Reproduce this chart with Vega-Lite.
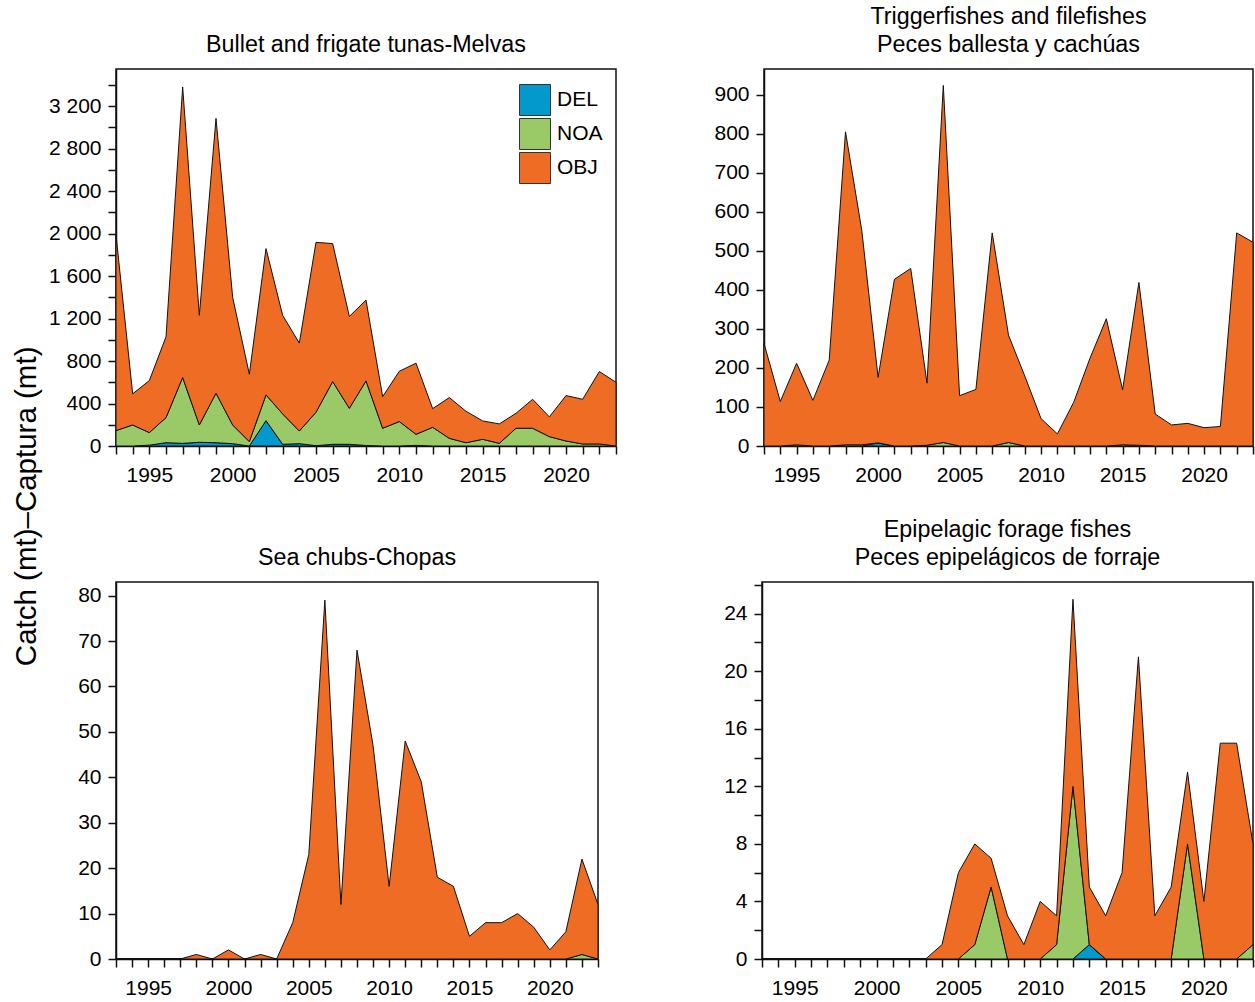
{
  "$schema": "https://vega.github.io/schema/vega-lite/v6.json",
  "padding": {"left": 12, "top": 3, "right": 0, "bottom": 0},
  "title": {"text": "Catch (mt)–Captura (mt)", "orient": "left", "anchor": "middle", "fontSize": 29.5, "font": "Liberation Sans", "fontWeight": "normal", "color": "black", "offset": 5, "frame": "bounds", "dx": -5},
  "config": {
    "font": "Liberation Sans",
    "view": {"stroke": "#111", "strokeWidth": 1.5},
    "axis": {"domainColor": "#111", "domainWidth": 1.5, "tickColor": "#111", "tickWidth": 1.5, "tickSize": 8, "labelFontSize": 21, "labelColor": "black", "labelFont": "Liberation Sans", "grid": false, "labelOverlap": false, "title": null},
    "axisX": {"labelPadding": 10},
    "axisY": {"labelPadding": 7},
    "title": {"fontSize": 23.3, "fontWeight": "normal", "color": "black", "offset": 12, "lineHeight": 28, "frame": "group", "font": "Liberation Sans"},
    "area": {"stroke": "#111", "strokeWidth": 1, "opacity": 1, "fillOpacity": 1}
  },
  "datasets": {
    "bullet": [
      {"year": 1993, "DEL": 0, "NOA": 145, "OBJ": 1845},
      {"year": 1994, "DEL": 0, "NOA": 198, "OBJ": 293},
      {"year": 1995, "DEL": 8, "NOA": 118, "OBJ": 490},
      {"year": 1996, "DEL": 31, "NOA": 236, "OBJ": 761},
      {"year": 1997, "DEL": 25, "NOA": 620, "OBJ": 2736},
      {"year": 1998, "DEL": 35, "NOA": 163, "OBJ": 1032},
      {"year": 1999, "DEL": 31, "NOA": 466, "OBJ": 2588},
      {"year": 2000, "DEL": 22, "NOA": 176, "OBJ": 1202},
      {"year": 2001, "DEL": 0, "NOA": 41, "OBJ": 635},
      {"year": 2002, "DEL": 239, "NOA": 242, "OBJ": 1378},
      {"year": 2003, "DEL": 16, "NOA": 286, "OBJ": 928},
      {"year": 2004, "DEL": 22, "NOA": 119, "OBJ": 828},
      {"year": 2005, "DEL": 3, "NOA": 315, "OBJ": 1600},
      {"year": 2006, "DEL": 16, "NOA": 591, "OBJ": 1299},
      {"year": 2007, "DEL": 16, "NOA": 339, "OBJ": 865},
      {"year": 2008, "DEL": 5, "NOA": 608, "OBJ": 761},
      {"year": 2009, "DEL": 0, "NOA": 167, "OBJ": 298},
      {"year": 2010, "DEL": 0, "NOA": 230, "OBJ": 474},
      {"year": 2011, "DEL": 6, "NOA": 104, "OBJ": 670},
      {"year": 2012, "DEL": 0, "NOA": 176, "OBJ": 176},
      {"year": 2013, "DEL": 0, "NOA": 72, "OBJ": 384},
      {"year": 2014, "DEL": 0, "NOA": 31, "OBJ": 296},
      {"year": 2015, "DEL": 0, "NOA": 63, "OBJ": 173},
      {"year": 2016, "DEL": 0, "NOA": 25, "OBJ": 183},
      {"year": 2017, "DEL": 0, "NOA": 167, "OBJ": 141},
      {"year": 2018, "DEL": 0, "NOA": 167, "OBJ": 273},
      {"year": 2019, "DEL": 0, "NOA": 88, "OBJ": 186},
      {"year": 2020, "DEL": 0, "NOA": 47, "OBJ": 428},
      {"year": 2021, "DEL": 0, "NOA": 19, "OBJ": 421},
      {"year": 2022, "DEL": 0, "NOA": 19, "OBJ": 682},
      {"year": 2023, "DEL": 0, "NOA": 0, "OBJ": 600}
    ],
    "trigger": [
      {"year": 1993, "DEL": 0, "NOA": 0, "OBJ": 263},
      {"year": 1994, "DEL": 0, "NOA": 0, "OBJ": 114},
      {"year": 1995, "DEL": 0, "NOA": 3, "OBJ": 209},
      {"year": 1996, "DEL": 0, "NOA": 0, "OBJ": 117},
      {"year": 1997, "DEL": 0, "NOA": 0, "OBJ": 220},
      {"year": 1998, "DEL": 0, "NOA": 3, "OBJ": 802},
      {"year": 1999, "DEL": 0, "NOA": 3, "OBJ": 549},
      {"year": 2000, "DEL": 8, "NOA": 0, "OBJ": 168},
      {"year": 2001, "DEL": 0, "NOA": 0, "OBJ": 427},
      {"year": 2002, "DEL": 0, "NOA": 0, "OBJ": 455},
      {"year": 2003, "DEL": 0, "NOA": 2, "OBJ": 159},
      {"year": 2004, "DEL": 0, "NOA": 9, "OBJ": 915},
      {"year": 2005, "DEL": 0, "NOA": 0, "OBJ": 129},
      {"year": 2006, "DEL": 0, "NOA": 0, "OBJ": 145},
      {"year": 2007, "DEL": 0, "NOA": 0, "OBJ": 546},
      {"year": 2008, "DEL": 0, "NOA": 9, "OBJ": 275},
      {"year": 2009, "DEL": 0, "NOA": 0, "OBJ": 179},
      {"year": 2010, "DEL": 0, "NOA": 0, "OBJ": 70},
      {"year": 2011, "DEL": 0, "NOA": 0, "OBJ": 31},
      {"year": 2012, "DEL": 0, "NOA": 0, "OBJ": 112},
      {"year": 2013, "DEL": 0, "NOA": 0, "OBJ": 225},
      {"year": 2014, "DEL": 0, "NOA": 0, "OBJ": 326},
      {"year": 2015, "DEL": 0, "NOA": 3, "OBJ": 141},
      {"year": 2016, "DEL": 0, "NOA": 2, "OBJ": 417},
      {"year": 2017, "DEL": 0, "NOA": 0, "OBJ": 82},
      {"year": 2018, "DEL": 0, "NOA": 0, "OBJ": 54},
      {"year": 2019, "DEL": 0, "NOA": 0, "OBJ": 58},
      {"year": 2020, "DEL": 0, "NOA": 0, "OBJ": 47},
      {"year": 2021, "DEL": 0, "NOA": 0, "OBJ": 50},
      {"year": 2022, "DEL": 0, "NOA": 0, "OBJ": 546},
      {"year": 2023, "DEL": 0, "NOA": 0, "OBJ": 522}
    ],
    "chubs": [
      {"year": 1993, "DEL": 0, "NOA": 0, "OBJ": 0},
      {"year": 1994, "DEL": 0, "NOA": 0, "OBJ": 0},
      {"year": 1995, "DEL": 0, "NOA": 0, "OBJ": 0},
      {"year": 1996, "DEL": 0, "NOA": 0, "OBJ": 0},
      {"year": 1997, "DEL": 0, "NOA": 0, "OBJ": 0},
      {"year": 1998, "DEL": 0, "NOA": 0, "OBJ": 1},
      {"year": 1999, "DEL": 0, "NOA": 0, "OBJ": 0},
      {"year": 2000, "DEL": 0, "NOA": 0, "OBJ": 2},
      {"year": 2001, "DEL": 0, "NOA": 0, "OBJ": 0},
      {"year": 2002, "DEL": 0, "NOA": 0, "OBJ": 1},
      {"year": 2003, "DEL": 0, "NOA": 0, "OBJ": 0},
      {"year": 2004, "DEL": 0, "NOA": 0, "OBJ": 8},
      {"year": 2005, "DEL": 0, "NOA": 0, "OBJ": 23},
      {"year": 2006, "DEL": 0, "NOA": 0, "OBJ": 79},
      {"year": 2007, "DEL": 0, "NOA": 0, "OBJ": 12},
      {"year": 2008, "DEL": 0, "NOA": 0, "OBJ": 68},
      {"year": 2009, "DEL": 0, "NOA": 0, "OBJ": 47},
      {"year": 2010, "DEL": 0, "NOA": 0, "OBJ": 16},
      {"year": 2011, "DEL": 0, "NOA": 0, "OBJ": 48},
      {"year": 2012, "DEL": 0, "NOA": 0, "OBJ": 39},
      {"year": 2013, "DEL": 0, "NOA": 0, "OBJ": 18},
      {"year": 2014, "DEL": 0, "NOA": 0, "OBJ": 16},
      {"year": 2015, "DEL": 0, "NOA": 0, "OBJ": 5},
      {"year": 2016, "DEL": 0, "NOA": 0, "OBJ": 8},
      {"year": 2017, "DEL": 0, "NOA": 0, "OBJ": 8},
      {"year": 2018, "DEL": 0, "NOA": 0, "OBJ": 10},
      {"year": 2019, "DEL": 0, "NOA": 0, "OBJ": 7},
      {"year": 2020, "DEL": 0, "NOA": 0, "OBJ": 2},
      {"year": 2021, "DEL": 0, "NOA": 0, "OBJ": 6},
      {"year": 2022, "DEL": 0, "NOA": 1, "OBJ": 21},
      {"year": 2023, "DEL": 0, "NOA": 0, "OBJ": 12}
    ],
    "forage": [
      {"year": 1993, "DEL": 0, "NOA": 0, "OBJ": 0},
      {"year": 1994, "DEL": 0, "NOA": 0, "OBJ": 0},
      {"year": 1995, "DEL": 0, "NOA": 0, "OBJ": 0},
      {"year": 1996, "DEL": 0, "NOA": 0, "OBJ": 0},
      {"year": 1997, "DEL": 0, "NOA": 0, "OBJ": 0},
      {"year": 1998, "DEL": 0, "NOA": 0, "OBJ": 0},
      {"year": 1999, "DEL": 0, "NOA": 0, "OBJ": 0},
      {"year": 2000, "DEL": 0, "NOA": 0, "OBJ": 0},
      {"year": 2001, "DEL": 0, "NOA": 0, "OBJ": 0},
      {"year": 2002, "DEL": 0, "NOA": 0, "OBJ": 0},
      {"year": 2003, "DEL": 0, "NOA": 0, "OBJ": 0},
      {"year": 2004, "DEL": 0, "NOA": 0, "OBJ": 1},
      {"year": 2005, "DEL": 0, "NOA": 0, "OBJ": 6},
      {"year": 2006, "DEL": 0, "NOA": 1, "OBJ": 7},
      {"year": 2007, "DEL": 0, "NOA": 5, "OBJ": 2},
      {"year": 2008, "DEL": 0, "NOA": 0, "OBJ": 3},
      {"year": 2009, "DEL": 0, "NOA": 0, "OBJ": 1},
      {"year": 2010, "DEL": 0, "NOA": 0, "OBJ": 4},
      {"year": 2011, "DEL": 0, "NOA": 1, "OBJ": 2},
      {"year": 2012, "DEL": 0, "NOA": 12, "OBJ": 13},
      {"year": 2013, "DEL": 1, "NOA": 0, "OBJ": 4},
      {"year": 2014, "DEL": 0, "NOA": 0, "OBJ": 3},
      {"year": 2015, "DEL": 0, "NOA": 0, "OBJ": 6},
      {"year": 2016, "DEL": 0, "NOA": 0, "OBJ": 21},
      {"year": 2017, "DEL": 0, "NOA": 0, "OBJ": 3},
      {"year": 2018, "DEL": 0, "NOA": 0, "OBJ": 5},
      {"year": 2019, "DEL": 0, "NOA": 8, "OBJ": 5},
      {"year": 2020, "DEL": 0, "NOA": 0, "OBJ": 4},
      {"year": 2021, "DEL": 0, "NOA": 0, "OBJ": 15},
      {"year": 2022, "DEL": 0, "NOA": 0, "OBJ": 15},
      {"year": 2023, "DEL": 0, "NOA": 1, "OBJ": 7}
    ]
  },
  "resolve": {"scale": {"color": "independent"}, "legend": {"color": "independent"}},
  "spacing": 30,
  "vconcat": [
    {
      "spacing": 94,
      "resolve": {"scale": {"color": "independent"}, "legend": {"color": "independent"}},
      "hconcat": [
        {
          "width": 500, "height": 377,
          "title": {"text": "Bullet and frigate tunas-Melvas", "frame": "group"},
          "data": {"name": "bullet"},
          "transform": [{"fold": ["DEL", "NOA", "OBJ"], "as": ["type", "catch"]}],
          "mark": {"type": "area"},
          "encoding": {
            "x": {"field": "year", "type": "quantitative", "scale": {"domain": [1993, 2023], "nice": false, "zero": false},
                  "axis": {"values": [1993,1994,1995,1996,1997,1998,1999,2000,2001,2002,2003,2004,2005,2006,2007,2008,2009,2010,2011,2012,2013,2014,2015,2016,2017,2018,2019,2020,2021,2022,2023], "labelExpr": "datum.value % 5 === 0 ? format(datum.value, 'd') : ''"}},
            "y": {"field": "catch", "type": "quantitative", "stack": "zero", "scale": {"domain": [0, 3550], "nice": false},
                  "axis": {"values": [0,200,400,600,800,1000,1200,1400,1600,1800,2000,2200,2400,2600,2800,3000,3200,3400], "labelExpr": "datum.value % 400 === 0 ? replace(format(datum.value, ','), ',', ' ') : ''"}},
            "color": {"field": "type", "type": "nominal", "scale": {"domain": ["DEL", "NOA", "OBJ"], "range": ["#0399CD", "#99CA67", "#EF6C24"]},
                      "legend": {"orient": "none", "legendX": 403, "legendY": 15, "title": null, "symbolType": "square", "symbolSize": 961, "symbolStrokeColor": "#333", "symbolStrokeWidth": 1, "symbolOpacity": 1, "labelFontSize": 21, "labelColor": "black", "labelFont": "Liberation Sans", "rowPadding": -2, "labelOffset": 6, "padding": 0}},
            "order": {"field": "type", "sort": "ascending"}
          }
        },
        {
          "width": 489, "height": 377,
          "title": {"text": ["Triggerfishes and filefishes", "Peces ballesta y cachúas"], "frame": "group"},
          "data": {"name": "trigger"},
          "transform": [{"fold": ["DEL", "NOA", "OBJ"], "as": ["type", "catch"]}],
          "mark": {"type": "area"},
          "encoding": {
            "x": {"field": "year", "type": "quantitative", "scale": {"domain": [1993, 2023], "nice": false, "zero": false},
                  "axis": {"values": [1993,1994,1995,1996,1997,1998,1999,2000,2001,2002,2003,2004,2005,2006,2007,2008,2009,2010,2011,2012,2013,2014,2015,2016,2017,2018,2019,2020,2021,2022,2023], "labelExpr": "datum.value % 5 === 0 ? format(datum.value, 'd') : ''"}},
            "y": {"field": "catch", "type": "quantitative", "stack": "zero", "scale": {"domain": [0, 966], "nice": false},
                  "axis": {"values": [0,100,200,300,400,500,600,700,800,900], "labelExpr": "format(datum.value, 'd')"}},
            "color": {"field": "type", "type": "nominal", "scale": {"domain": ["DEL", "NOA", "OBJ"], "range": ["#0399CD", "#99CA67", "#EF6C24"]}, "legend": null},
            "order": {"field": "type", "sort": "ascending"}
          }
        }
      ]
    },
    {
      "spacing": 121,
      "resolve": {"scale": {"color": "independent"}, "legend": {"color": "independent"}},
      "hconcat": [
        {
          "width": 482, "height": 377,
          "title": {"text": "Sea chubs-Chopas", "frame": "group"},
          "data": {"name": "chubs"},
          "transform": [{"fold": ["DEL", "NOA", "OBJ"], "as": ["type", "catch"]}],
          "mark": {"type": "area"},
          "encoding": {
            "x": {"field": "year", "type": "quantitative", "scale": {"domain": [1993, 2023], "nice": false, "zero": false},
                  "axis": {"values": [1993,1994,1995,1996,1997,1998,1999,2000,2001,2002,2003,2004,2005,2006,2007,2008,2009,2010,2011,2012,2013,2014,2015,2016,2017,2018,2019,2020,2021,2022,2023], "labelExpr": "datum.value % 5 === 0 ? format(datum.value, 'd') : ''"}},
            "y": {"field": "catch", "type": "quantitative", "stack": "zero", "scale": {"domain": [0, 83], "nice": false},
                  "axis": {"values": [0,10,20,30,40,50,60,70,80], "labelExpr": "format(datum.value, 'd')"}},
            "color": {"field": "type", "type": "nominal", "scale": {"domain": ["DEL", "NOA", "OBJ"], "range": ["#0399CD", "#99CA67", "#EF6C24"]}, "legend": null},
            "order": {"field": "type", "sort": "ascending"}
          }
        },
        {
          "width": 491, "height": 377,
          "title": {"text": ["Epipelagic forage fishes", "Peces epipelágicos de forraje"], "frame": "group"},
          "data": {"name": "forage"},
          "transform": [{"fold": ["DEL", "NOA", "OBJ"], "as": ["type", "catch"]}],
          "mark": {"type": "area"},
          "encoding": {
            "x": {"field": "year", "type": "quantitative", "scale": {"domain": [1993, 2023], "nice": false, "zero": false},
                  "axis": {"values": [1993,1994,1995,1996,1997,1998,1999,2000,2001,2002,2003,2004,2005,2006,2007,2008,2009,2010,2011,2012,2013,2014,2015,2016,2017,2018,2019,2020,2021,2022,2023], "labelExpr": "datum.value % 5 === 0 ? format(datum.value, 'd') : ''"}},
            "y": {"field": "catch", "type": "quantitative", "stack": "zero", "scale": {"domain": [0, 26.2], "nice": false},
                  "axis": {"values": [0,2,4,6,8,10,12,14,16,18,20,22,24,26], "labelExpr": "datum.value % 4 === 0 ? format(datum.value, 'd') : ''",
                           "labelFontSize": {"condition": {"test": "datum.value % 4 !== 0", "value": 0}, "value": 21}}},
            "color": {"field": "type", "type": "nominal", "scale": {"domain": ["DEL", "NOA", "OBJ"], "range": ["#0399CD", "#99CA67", "#EF6C24"]}, "legend": null},
            "order": {"field": "type", "sort": "ascending"}
          }
        }
      ]
    }
  ]
}
